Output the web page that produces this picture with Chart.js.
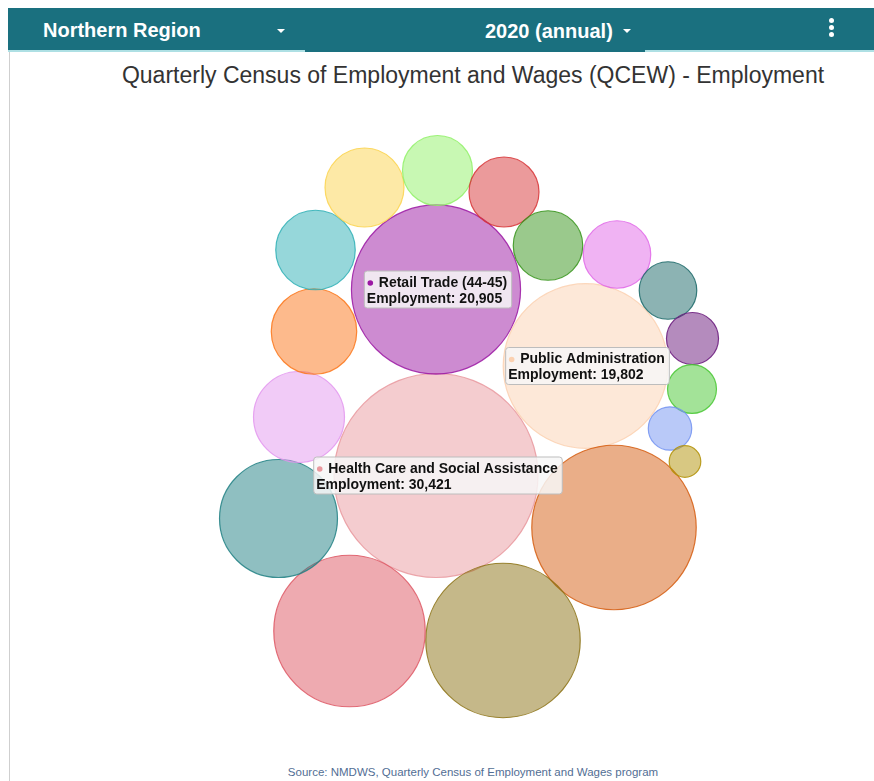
<!DOCTYPE html>
<html>
<head>
<meta charset="utf-8">
<script src="https://cdn.jsdelivr.net/npm/chart.js@4.4.1/dist/chart.umd.min.js"></script>
<style>
  html, body { margin: 0; padding: 0; background: #fff; width: 874px; height: 781px; overflow: hidden; font-family: "Liberation Sans", Arial, sans-serif; }
  #frame { position: absolute; left: 9px; top: 52px; width: 1px; height: 729px; background: #cfcfcf; }
  #header { position: absolute; left: 8px; top: 8px; width: 866px; height: 42px; background: #1a707f; border-bottom: 2px solid #aee0e4; }
  #tab { position: absolute; left: 305px; top: 8px; width: 340px; height: 44px; background: #1a707f; }
  .htxt { position: absolute; color: #fff; font-weight: bold; font-size: 20px; line-height: 20px; white-space: nowrap; }
  .caret { position: absolute; width: 0; height: 0; border-left: 4.5px solid transparent; border-right: 4.5px solid transparent; border-top: 4.5px solid #fff; }
  .dot { position: absolute; width: 5px; height: 5px; border-radius: 50%; background: #fff; }
  #title { position: absolute; left: 0; width: 946px; top: 62px; text-align: center; font-size: 23px; line-height: 26px; color: #333; white-space: nowrap; }
  #source { position: absolute; left: 0; width: 946px; top: 765px; text-align: center; font-size: 11.5px; line-height: 14px; color: #526e94; white-space: nowrap; }
  #wrap { position: absolute; left: 9px; top: 100px; width: 865px; height: 660px; }
</style>
</head>
<body>
<div id="frame"></div>
<div id="header"></div>
<div id="tab"></div>
<div class="htxt" style="left:43px; top:20px;">Northern Region</div>
<div class="caret" style="left:277px; top:29px;"></div>
<div class="htxt" style="left:485px; top:21px;">2020 (annual)</div>
<div class="caret" style="left:623px; top:29px;"></div>
<div class="dot" style="left:829px; top:18px;"></div>
<div class="dot" style="left:829px; top:25px;"></div>
<div class="dot" style="left:829px; top:32px;"></div>
<div id="title">Quarterly Census of Employment and Wages (QCEW) - Employment</div>
<div id="wrap"><canvas id="c" width="865" height="660"></canvas></div>
<div id="source">Source: NMDWS, Quarterly Census of Employment and Wages program</div>
<script>
// ---- data ----
const industries = [
  "Health Care and Social Assistance",
  "Retail Trade (44-45)",
  "Public Administration",
  "Accommodation and Food Services",
  "Educational Services",
  "Professional and Technical Services",
  "Construction",
  "Administrative and Waste Services",
  "Manufacturing",
  "Other Services, Ex. Public Admin",
  "Transportation and Warehousing",
  "Arts, Entertainment, and Recreation",
  "Finance and Insurance",
  "Real Estate and Rental and Leasing",
  "Wholesale Trade",
  "Mining",
  "Information",
  "Agriculture, Forestry, Fishing and Hunting",
  "Management of Companies and Enterprises",
  "Utilities"
];
const employment = [30421, 20905, 19802, 19770, 17440, 16770, 10170, 6050, 5340, 4620, 4560, 3580, 3580, 3530, 3330, 2420, 1980, 1750, 1380, 730];
// packed-bubble layout positions (layout units, cluster origin at the largest bubble)
const packX = [0, 0, 149.5, 178, 67, -86.5, -157.5, -137, -122, -120.5, -71.5, 1.5, 68, 112, 181, 232, 256.5, 256, 234, 249];
const packY = [0, 186, 109.5, -52, -165, -155.5, -43, 58.5, 144, 225.5, 288, 305, 283.5, 230, 221, 185, 137, 86.5, 47, 14];
const labelled = ["Health Care and Social Assistance", "Retail Trade (44-45)", "Public Administration"];

// ---- styles ----
const baseColors = ["#e9999f", "#9b17a3", "#fbd1b1", "#d55d11", "#8b7113", "#dd5561", "#1f7f83", "#e397ef", "#fb7519", "#2dafb5",
                    "#fbd34d", "#91f167", "#d73537", "#359319", "#e167e7", "#196767", "#69177b", "#47c731", "#7393f1", "#b19105"];
const maxRadius = 102;

function hexA(h, a) {
  const n = parseInt(h.slice(1), 16);
  return `rgba(${(n >> 16) & 255},${(n >> 8) & 255},${n & 255},${a})`;
}
const maxVal = Math.max(...employment);
const points = industries.map((name, i) => ({
  x: packX[i], y: packY[i], v: employment[i], name,
  r: maxRadius * Math.sqrt(employment[i] / maxVal)
}));

const labelPlugin = {
  id: 'pinnedTooltips',
  afterDatasetsDraw(chart) {
    const ctx = chart.ctx;
    const meta = chart.getDatasetMeta(0);
    ctx.save();
    labelled.forEach(name => {
      const i = industries.indexOf(name);
      const el = meta.data[i];
      const line1 = name;
      const line2 = "Employment: " + employment[i].toLocaleString('en-US');
      ctx.font = 'bold 14px "Liberation Sans", Arial, sans-serif';
      const w1 = ctx.measureText(line1).width + 13;
      const w2 = ctx.measureText(line2).width;
      const w = Math.max(w1, w2) + 6;
      const h = 37;
      const bx = el.x - w / 2 + 2;
      const by = el.y - h / 2;
      ctx.beginPath();
      ctx.roundRect(bx, by, w, h, 3);
      ctx.fillStyle = 'rgba(247,247,247,0.85)';
      ctx.fill();
      ctx.lineWidth = 1;
      ctx.strokeStyle = '#bdbdbd';
      ctx.stroke();
      ctx.fillStyle = baseColors[i];
      ctx.beginPath();
      ctx.arc(bx + 6, by + 12, 2.8, 0, Math.PI * 2);
      ctx.fill();
      ctx.fillStyle = '#111';
      ctx.textBaseline = 'middle';
      ctx.textAlign = 'left';
      ctx.fillText(line1, bx + 14.5, by + 12);
      ctx.fillText(line2, bx + 2.5, by + 28);
    });
    ctx.restore();
  }
};

new Chart(document.getElementById('c'), {
  type: 'bubble',
  data: {
    datasets: [{
      label: 'Employment',
      data: points,
      backgroundColor: baseColors.map(c => hexA(c, 0.5)),
      borderColor: baseColors.map(c => hexA(c, 0.85)),
      borderWidth: 1.2,
      hoverRadius: 0,
      clip: false
    }]
  },
  options: {
    responsive: false,
    animation: false,
    events: [],
    layout: { padding: 0, autoPadding: false },
    plugins: { legend: { display: false }, tooltip: { enabled: false } },
    scales: {
      x: { type: 'linear', display: false, min: -427, max: 438 },
      y: { type: 'linear', display: false, min: -284.5, max: 375.5 }
    }
  },
  plugins: [labelPlugin]
});
</script>
</body>
</html>
